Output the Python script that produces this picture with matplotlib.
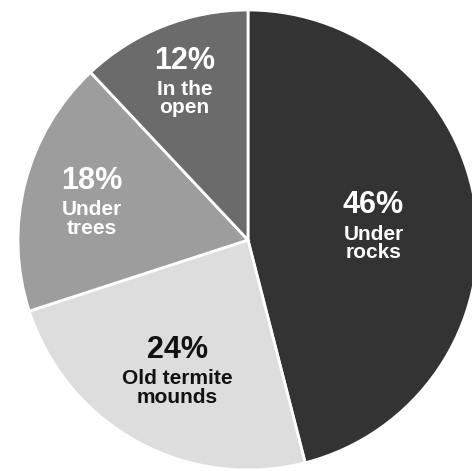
import matplotlib
matplotlib.use("Agg")
import matplotlib.pyplot as plt
import numpy as np

labels = ["Under\nrocks", "Old termite\nmounds", "Under\ntrees", "In the\nopen"]
values = [46, 24, 18, 12]
colors = ["#333333", "#dddddd", "#9d9d9d", "#6b6b6b"]
text_colors = ["white", "#111111", "white", "white"]
label_radius = [0.55, 0.64, 0.70, 0.75]

fig = plt.figure(figsize=(4.72, 4.71), dpi=100)
ax = fig.add_axes([0, 0, 1, 1])
R = 230.0

wedges, _ = ax.pie(values, colors=colors, startangle=90, counterclock=False,
                   radius=1.0, frame=True,
                   wedgeprops=dict(edgecolor="white", linewidth=2))
ax.set_xlim(-248 / R, (472 - 248) / R)
ax.set_ylim(-(471 - 240) / R, 240 / R)
ax.set_aspect("auto")
ax.axis("off")

for w, v, lab, tc, lr in zip(wedges, values, labels, text_colors, label_radius):
    ang = np.deg2rad((w.theta1 + w.theta2) / 2)
    x, y = lr * np.cos(ang), lr * np.sin(ang)
    ax.annotate(f"{v}%", (x, y), xytext=(0, 19), textcoords="offset pixels",
                ha="center", va="center", fontsize=22, fontweight="bold",
                color=tc, family="Liberation Sans")
    ax.annotate(lab, (x, y), xytext=(0, -19), textcoords="offset pixels",
                ha="center", va="center", fontsize=15, fontweight="bold",
                color=tc, family="Liberation Sans", linespacing=0.95)

fig.savefig("out.png", dpi=100, facecolor="white")
